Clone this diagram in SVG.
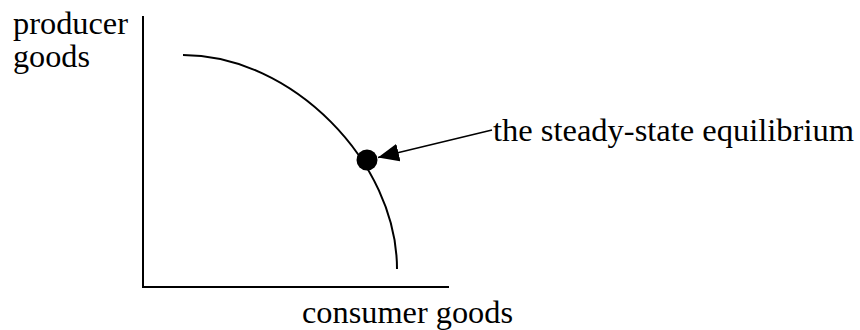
<svg xmlns="http://www.w3.org/2000/svg" width="860" height="330" viewBox="0 0 860 330">
<style>
.lbl{font-family:"Liberation Serif","Times New Roman",serif;font-size:32px;fill:#000}
.ax{stroke:#000;stroke-width:2;fill:none}
.crv{stroke:#000;stroke-width:2;fill:none}
.ptr{stroke:#000;stroke-width:1.6;fill:none}
</style>
<defs>
<marker id="ah" markerUnits="userSpaceOnUse" markerWidth="22" markerHeight="18" refX="21" refY="9" orient="auto">
<path d="M0,0 L21,9 L0,18 Z" fill="#000"/>
</marker>
</defs>
<rect width="860" height="330" fill="#fff"/>
<g id="axes">
<path class="ax" d="M143,16 L143,287 L449,287"/>
</g>
<g id="curve">
<path class="crv" d="M183,55 C292,55 397,162 397,269"/>
</g>
<g id="equilibrium">
<circle cx="367" cy="160" r="10.5" fill="#000"/>
</g>
<g id="connectors">
<path class="ptr" d="M492,130 L378,157.5" marker-end="url(#ah)"/>
</g>
<g id="labels">
<text class="lbl" x="13" y="34" textLength="115" lengthAdjust="spacingAndGlyphs">producer</text>
<text class="lbl" x="13" y="67" textLength="77" lengthAdjust="spacingAndGlyphs">goods</text>
<text class="lbl" x="302" y="323" textLength="211" lengthAdjust="spacingAndGlyphs">consumer goods</text>
<text class="lbl" x="493" y="141" textLength="361" lengthAdjust="spacingAndGlyphs">the steady-state equilibrium</text>
</g>
</svg>
